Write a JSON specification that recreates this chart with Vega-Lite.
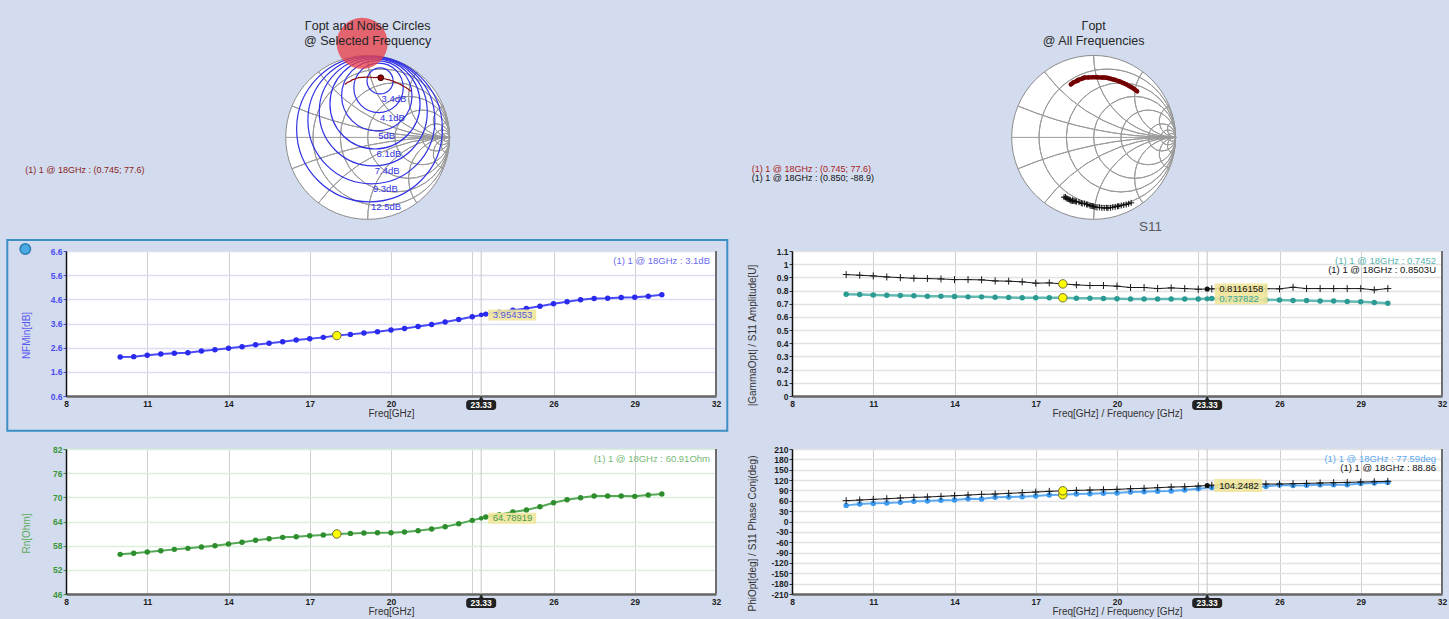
{
"$schema": "https://vega.github.io/schema/vega-lite/v6.json",
"background": "#d3dcee",
"padding": {"left": 6, "top": 10, "right": 2, "bottom": 5},
"columns": 2,
"bounds": "flush",
"spacing": {"row": 53, "column": 76},
"config": {
 "font": "Liberation Sans",
 "view": {"stroke": null},
 "axis": {"labelFont": "Liberation Sans", "labelFontSize": 8.5, "labelFontWeight": "bold", "titleFont": "Liberation Sans", "titleFontSize": 10, "titleFontWeight": "normal", "grid": true, "tickCount": 30},
 "text": {"font": "Liberation Sans"},
 "point": {"opacity": 1}
},
"datasets": {
 "nf": [{"f":10,"v":2.215},{"f":10.5,"v":2.229},{"f":11,"v":2.284},{"f":11.5,"v":2.339},{"f":12,"v":2.366},{"f":12.5,"v":2.394},{"f":13,"v":2.463},{"f":13.5,"v":2.518},{"f":14,"v":2.573},{"f":14.5,"v":2.641},{"f":15,"v":2.724},{"f":15.5,"v":2.779},{"f":16,"v":2.847},{"f":16.5,"v":2.916},{"f":17,"v":2.971},{"f":17.5,"v":3.026},{"f":18,"v":3.1},{"f":18.5,"v":3.15},{"f":19,"v":3.205},{"f":19.5,"v":3.26},{"f":20,"v":3.329},{"f":20.5,"v":3.397},{"f":21,"v":3.48},{"f":21.5,"v":3.562},{"f":22,"v":3.658},{"f":22.5,"v":3.768},{"f":23,"v":3.878},{"f":23.5,"v":3.988},{"f":24,"v":4.07},{"f":24.5,"v":4.153},{"f":25,"v":4.222},{"f":25.5,"v":4.318},{"f":26,"v":4.414},{"f":26.5,"v":4.497},{"f":27,"v":4.579},{"f":27.5,"v":4.634},{"f":28,"v":4.648},{"f":28.5,"v":4.676},{"f":29,"v":4.69},{"f":29.5,"v":4.731},{"f":30,"v":4.786}],
 "rn": [{"f":10,"v":55.84},{"f":10.5,"v":56.09},{"f":11,"v":56.42},{"f":11.5,"v":56.75},{"f":12,"v":57.08},{"f":12.5,"v":57.33},{"f":13,"v":57.66},{"f":13.5,"v":57.99},{"f":14,"v":58.41},{"f":14.5,"v":58.82},{"f":15,"v":59.32},{"f":15.5,"v":59.73},{"f":16,"v":60.06},{"f":16.5,"v":60.23},{"f":17,"v":60.48},{"f":17.5,"v":60.64},{"f":18,"v":60.91},{"f":18.5,"v":61.05},{"f":19,"v":61.13},{"f":19.5,"v":61.22},{"f":20,"v":61.22},{"f":20.5,"v":61.39},{"f":21,"v":61.72},{"f":21.5,"v":62.13},{"f":22,"v":62.71},{"f":22.5,"v":63.45},{"f":23,"v":64.28},{"f":23.5,"v":65.11},{"f":24,"v":65.7},{"f":24.5,"v":66.35},{"f":25,"v":66.85},{"f":25.5,"v":67.68},{"f":26,"v":68.67},{"f":26.5,"v":69.41},{"f":27,"v":69.91},{"f":27.5,"v":70.32},{"f":28,"v":70.32},{"f":28.5,"v":70.32},{"f":29,"v":70.24},{"f":29.5,"v":70.57},{"f":30,"v":70.82}],
 "gopt": [{"f":10,"v":0.7725},{"f":10.5,"v":0.77},{"f":11,"v":0.767},{"f":11.5,"v":0.765},{"f":12,"v":0.762},{"f":12.5,"v":0.76},{"f":13,"v":0.757},{"f":13.5,"v":0.757},{"f":14,"v":0.755},{"f":14.5,"v":0.752},{"f":15,"v":0.752},{"f":15.5,"v":0.75},{"f":16,"v":0.747},{"f":16.5,"v":0.745},{"f":17,"v":0.745},{"f":17.5,"v":0.745},{"f":18,"v":0.7452},{"f":18.5,"v":0.742},{"f":19,"v":0.742},{"f":19.5,"v":0.74},{"f":20,"v":0.737},{"f":20.5,"v":0.735},{"f":21,"v":0.735},{"f":21.5,"v":0.735},{"f":22,"v":0.735},{"f":22.5,"v":0.735},{"f":23,"v":0.735},{"f":23.5,"v":0.739},{"f":24,"v":0.735},{"f":24.5,"v":0.733},{"f":25,"v":0.732},{"f":25.5,"v":0.73},{"f":26,"v":0.728},{"f":26.5,"v":0.725},{"f":27,"v":0.725},{"f":27.5,"v":0.72},{"f":28,"v":0.72},{"f":28.5,"v":0.717},{"f":29,"v":0.715},{"f":29.5,"v":0.71},{"f":30,"v":0.704}],
 "s11a": [{"f":10,"v":0.921},{"f":10.5,"v":0.916},{"f":11,"v":0.911},{"f":11.5,"v":0.903},{"f":12,"v":0.898},{"f":12.5,"v":0.893},{"f":13,"v":0.891},{"f":13.5,"v":0.888},{"f":14,"v":0.883},{"f":14.5,"v":0.883},{"f":15,"v":0.881},{"f":15.5,"v":0.873},{"f":16,"v":0.871},{"f":16.5,"v":0.866},{"f":17,"v":0.856},{"f":17.5,"v":0.858},{"f":18,"v":0.8503},{"f":18.5,"v":0.843},{"f":19,"v":0.838},{"f":19.5,"v":0.838},{"f":20,"v":0.833},{"f":20.5,"v":0.823},{"f":21,"v":0.823},{"f":21.5,"v":0.815},{"f":22,"v":0.82},{"f":22.5,"v":0.815},{"f":23,"v":0.81},{"f":23.5,"v":0.813},{"f":24,"v":0.812},{"f":24.5,"v":0.813},{"f":25,"v":0.812},{"f":25.5,"v":0.814},{"f":26,"v":0.813},{"f":26.5,"v":0.825},{"f":27,"v":0.815},{"f":27.5,"v":0.815},{"f":28,"v":0.815},{"f":28.5,"v":0.815},{"f":29,"v":0.815},{"f":29.5,"v":0.805},{"f":30,"v":0.815}],
 "phi": [{"f":10,"v":46.7},{"f":10.5,"v":50.6},{"f":11,"v":52.5},{"f":11.5,"v":53.5},{"f":12,"v":55.4},{"f":12.5,"v":58.3},{"f":13,"v":59.3},{"f":13.5,"v":61.2},{"f":14,"v":62.2},{"f":14.5,"v":66},{"f":15,"v":65},{"f":15.5,"v":69.9},{"f":16,"v":70.9},{"f":16.5,"v":71.8},{"f":17,"v":73.8},{"f":17.5,"v":76.6},{"f":18,"v":77.59},{"f":18.5,"v":79.5},{"f":19,"v":80.5},{"f":19.5,"v":81.5},{"f":20,"v":82.4},{"f":20.5,"v":85.3},{"f":21,"v":86.3},{"f":21.5,"v":87.3},{"f":22,"v":88.2},{"f":22.5,"v":91.1},{"f":23,"v":95},{"f":23.5,"v":98.8},{"f":24,"v":99.5},{"f":24.5,"v":100.3},{"f":25,"v":101},{"f":25.5,"v":101.7},{"f":26,"v":105.6},{"f":26.5,"v":104.6},{"f":27,"v":105},{"f":27.5,"v":106.6},{"f":28,"v":106.6},{"f":28.5,"v":106.6},{"f":29,"v":110.4},{"f":29.5,"v":111.4},{"f":30,"v":113.3}],
 "s11p": [{"f":10,"v":60.2},{"f":10.5,"v":62.2},{"f":11,"v":64.1},{"f":11.5,"v":66},{"f":12,"v":68},{"f":12.5,"v":69.9},{"f":13,"v":70.9},{"f":13.5,"v":72.8},{"f":14,"v":74.7},{"f":14.5,"v":76.6},{"f":15,"v":78.6},{"f":15.5,"v":79.5},{"f":16,"v":81.5},{"f":16.5,"v":83.4},{"f":17,"v":85.3},{"f":17.5,"v":87.3},{"f":18,"v":88.86},{"f":18.5,"v":90.2},{"f":19,"v":91.1},{"f":19.5,"v":92.1},{"f":20,"v":93.1},{"f":20.5,"v":95},{"f":21,"v":96},{"f":21.5,"v":97.9},{"f":22,"v":99.8},{"f":22.5,"v":100.7},{"f":23,"v":102.7},{"f":23.5,"v":105},{"f":24,"v":106},{"f":24.5,"v":107},{"f":25,"v":108},{"f":25.5,"v":108.5},{"f":26,"v":108.5},{"f":26.5,"v":109.5},{"f":27,"v":110.4},{"f":27.5,"v":111.4},{"f":28,"v":112.4},{"f":28.5,"v":113.3},{"f":29,"v":114.3},{"f":29.5,"v":115.3},{"f":30,"v":116.3}],
 "nfcur": [{"f":23.33,"v":3.954353,"label":"3.954353"}],
 "rncur": [{"f":23.33,"v":64.78919,"label":"64.78919"}],
 "gcurs": [{"f":23.33,"v":0.8116158,"label":"0.8116158"}],
 "gcurg": [{"f":23.33,"v":0.737822,"label":"0.737822"}],
 "pcur": [{"f":23.33,"v":104.2482,"label":"104.2482"}],
 "gsmith": [{"f":10,"re":0.5298,"im":0.5622},{"f":10.5,"re":0.4887,"im":0.595},{"f":11,"re":0.4669,"im":0.6085},{"f":11.5,"re":0.455,"im":0.615},{"f":12,"re":0.4327,"im":0.6272},{"f":12.5,"re":0.3994,"im":0.6466},{"f":13,"re":0.3864,"im":0.6509},{"f":13.5,"re":0.3647,"im":0.6634},{"f":14,"re":0.3521,"im":0.6679},{"f":14.5,"re":0.3058,"im":0.687},{"f":15,"re":0.3178,"im":0.6815},{"f":15.5,"re":0.2578,"im":0.7043},{"f":16,"re":0.2444,"im":0.7058},{"f":16.5,"re":0.2327,"im":0.7078},{"f":17,"re":0.2079,"im":0.7154},{"f":17.5,"re":0.1726,"im":0.7247},{"f":18,"re":0.1601,"im":0.7278},{"f":18.5,"re":0.1352,"im":0.7296},{"f":19,"re":0.1224,"im":0.7319},{"f":19.5,"re":0.1094,"im":0.7319},{"f":20,"re":0.0975,"im":0.7305},{"f":20.5,"re":0.0602,"im":0.7325},{"f":21,"re":0.0474,"im":0.7335},{"f":21.5,"re":0.0346,"im":0.7342},{"f":22,"re":0.0231,"im":0.7346},{"f":22.5,"re":-0.0141,"im":0.7349},{"f":23,"re":-0.0641,"im":0.7322},{"f":23.5,"re":-0.1131,"im":0.7303},{"f":24,"re":-0.1213,"im":0.7249},{"f":24.5,"re":-0.1311,"im":0.7212},{"f":25,"re":-0.1397,"im":0.7185},{"f":25.5,"re":-0.148,"im":0.7148},{"f":26,"re":-0.1958,"im":0.7012},{"f":26.5,"re":-0.1828,"im":0.7016},{"f":27,"re":-0.1876,"im":0.7003},{"f":27.5,"re":-0.2057,"im":0.69},{"f":28,"re":-0.2057,"im":0.69},{"f":28.5,"re":-0.2048,"im":0.6871},{"f":29,"re":-0.2492,"im":0.6702},{"f":29.5,"re":-0.2591,"im":0.6611},{"f":30,"re":-0.2784,"im":0.6466}],
 "ssmith": [{"f":10,"re":0.4577,"im":-0.7992},{"f":10.5,"re":0.4272,"im":-0.8103},{"f":11,"re":0.3979,"im":-0.8195},{"f":11.5,"re":0.3673,"im":-0.8249},{"f":12,"re":0.3364,"im":-0.8326},{"f":12.5,"re":0.3069,"im":-0.8386},{"f":13,"re":0.2915,"im":-0.8419},{"f":13.5,"re":0.2626,"im":-0.8483},{"f":14,"re":0.233,"im":-0.8517},{"f":14.5,"re":0.2046,"im":-0.859},{"f":15,"re":0.1742,"im":-0.8636},{"f":15.5,"re":0.1591,"im":-0.8584},{"f":16,"re":0.1287,"im":-0.8614},{"f":16.5,"re":0.0995,"im":-0.8603},{"f":17,"re":0.0701,"im":-0.8531},{"f":17.5,"re":0.0404,"im":-0.8571},{"f":18,"re":0.0169,"im":-0.8501},{"f":18.5,"re":-0.0029,"im":-0.843},{"f":19,"re":-0.0161,"im":-0.8378},{"f":19.5,"re":-0.0307,"im":-0.8374},{"f":20,"re":-0.0451,"im":-0.8318},{"f":20.5,"re":-0.0718,"im":-0.8199},{"f":21,"re":-0.086,"im":-0.8185},{"f":21.5,"re":-0.112,"im":-0.8073},{"f":22,"re":-0.1396,"im":-0.808},{"f":22.5,"re":-0.1513,"im":-0.8008},{"f":23,"re":-0.178,"im":-0.7902},{"f":23.5,"re":-0.2104,"im":-0.7853},{"f":24,"re":-0.2238,"im":-0.7806},{"f":24.5,"re":-0.2377,"im":-0.7775},{"f":25,"re":-0.2509,"im":-0.7723},{"f":25.5,"re":-0.2583,"im":-0.7719},{"f":26,"re":-0.258,"im":-0.771},{"f":26.5,"re":-0.2754,"im":-0.7776},{"f":27,"re":-0.2841,"im":-0.7639},{"f":27.5,"re":-0.2974,"im":-0.7588},{"f":28,"re":-0.3106,"im":-0.7535},{"f":28.5,"re":-0.3223,"im":-0.7485},{"f":29,"re":-0.3354,"im":-0.7428},{"f":29.5,"re":-0.3441,"im":-0.7278},{"f":30,"re":-0.3611,"im":-0.7306}],
 "disk": [{"cx":0,"cy":0,"r":1,"t0":0,"t1":360}],
 "redcircle": [{"cx":-0.067,"cy":1.149,"r":0.312,"t0":0,"t1":360}],
 "smithgrid": [{"cx":0.16667,"cy":0,"r":0.83333,"t0":0,"t1":360},{"cx":0.33333,"cy":0,"r":0.66667,"t0":0,"t1":360},{"cx":0.5,"cy":0,"r":0.5,"t0":0,"t1":360},{"cx":0.66667,"cy":0,"r":0.33333,"t0":0,"t1":360},{"cx":0.83333,"cy":0,"r":0.16667,"t0":0,"t1":360},{"cx":0.90909,"cy":0,"r":0.09091,"t0":0,"t1":360},{"cx":0.95238,"cy":0,"r":0.04762,"t0":0,"t1":360},
  {"cx":1,"cy":5,"r":5,"t0":180,"t1":202.62},{"cx":1,"cy":2,"r":2,"t0":180,"t1":233.13},{"cx":1,"cy":1,"r":1,"t0":180,"t1":270},{"cx":1,"cy":0.5,"r":0.5,"t0":180,"t1":306.87},{"cx":1,"cy":0.2,"r":0.2,"t0":180,"t1":337.38},{"cx":1,"cy":0.1,"r":0.1,"t0":180,"t1":348.58},
  {"cx":1,"cy":-5,"r":5,"t0":337.38,"t1":360},{"cx":1,"cy":-2,"r":2,"t0":306.87,"t1":360},{"cx":1,"cy":-1,"r":1,"t0":270,"t1":360},{"cx":1,"cy":-0.5,"r":0.5,"t0":233.13,"t1":360},{"cx":1,"cy":-0.2,"r":0.2,"t0":202.62,"t1":360},{"cx":1,"cy":-0.1,"r":0.1,"t0":191.42,"t1":360}],
 "noise": [{"label":"3.4dB","cx":0.1515,"cy":0.689,"r":0.1589,"yb":0.5301,"t0":0,"t1":360},{"label":"4.1dB","cx":0.133,"cy":0.6048,"r":0.3016,"yb":0.3032,"t0":0,"t1":360},{"label":"5dB","cx":0.1118,"cy":0.5085,"r":0.4294,"yb":0.0791,"t0":0,"t1":360},{"label":"6.1dB","cx":0.0898,"cy":0.4083,"r":0.5497,"yb":-0.1414,"t0":0,"t1":360},{"label":"7.4dB","cx":0.0687,"cy":0.3125,"r":0.6593,"yb":-0.3468,"t0":0,"t1":360},{"label":"9.3dB","cx":0.0458,"cy":0.2085,"r":0.7746,"yb":-0.5661,"t0":0,"t1":360},{"label":"12.5dB","cx":0.0227,"cy":0.1031,"r":0.8893,"yb":-0.7862,"t0":0,"t1":360}]
},
"concat": [
 {
  "width": 650, "height": 188,
  "view": {"stroke": null},
  "layer": [
   {"data": {"name":"disk"},
    "mark": {"type":"arc","fill":"#ffffff","stroke":"#8c8c8c","strokeWidth":1},
    "encoding": {
     "x": {"field":"cx","type":"quantitative","scale":{"domain":[-3.68,4.25],"nice":false,"zero":false},"axis":null},
     "y": {"field":"cy","type":"quantitative","scale":{"domain":[-0.74,1.555],"nice":false,"zero":false},"axis":null},
     "theta": {"field":"t0","type":"quantitative","stack":null,"scale":{"domain":[0,360],"range":[0,6.283185307179586]}},
     "theta2": {"field":"t1"},
     "radius": {"field":"r","type":"quantitative","scale":{"type":"linear","domain":[0,1],"range":[0,81.95],"zero":true}}
    }},
   {"data": {"name":"smithgrid"},
    "mark": {"type":"arc","filled":false,"stroke":"#9a9a9a","strokeWidth":1},
    "encoding": {
     "x": {"field":"cx","type":"quantitative","scale":{"domain":[-3.68,4.25],"nice":false,"zero":false},"axis":null},
     "y": {"field":"cy","type":"quantitative","scale":{"domain":[-0.74,1.555],"nice":false,"zero":false},"axis":null},
     "theta": {"field":"t0","type":"quantitative","stack":null,"scale":{"domain":[0,360],"range":[0,6.283185307179586]}},
     "theta2": {"field":"t1"},
     "radius": {"field":"r","type":"quantitative","scale":{"type":"linear","domain":[0,1],"range":[0,81.95],"zero":true}},
     "radius2": {"field":"r"}
    }},
   {"data": {"values": [{"a":-1,"b":1,"c":0}]},
    "mark": {"type":"rule","stroke":"#9a9a9a","strokeWidth":1},
    "encoding": {"x": {"field":"a","type":"quantitative","axis":null},"x2": {"field":"b"},"y": {"field":"c","type":"quantitative","axis":null}}},
   {"data": {"name":"noise"},
    "mark": {"type":"arc","filled":false,"stroke":"#3232e4","strokeWidth":1.2},
    "encoding": {
     "x": {"field":"cx","type":"quantitative","scale":{"domain":[-3.68,4.25],"nice":false,"zero":false},"axis":null},
     "y": {"field":"cy","type":"quantitative","scale":{"domain":[-0.74,1.555],"nice":false,"zero":false},"axis":null},
     "theta": {"field":"t0","type":"quantitative","stack":null,"scale":{"domain":[0,360],"range":[0,6.283185307179586]}},
     "theta2": {"field":"t1"},
     "radius": {"field":"r","type":"quantitative","scale":{"type":"linear","domain":[0,1],"range":[0,81.95],"zero":true}},
     "radius2": {"field":"r"}
    }},
   {"data": {"name":"noise"},
    "mark": {"type":"text","align":"left","baseline":"top","dx":1.5,"dy":0.5,"fontSize":9.5,"color":"#3232e4"},
    "encoding": {
     "x": {"field":"cx","type":"quantitative","axis":null},
     "y": {"field":"yb","type":"quantitative","axis":null},
     "text": {"field":"label"}
    }},
   {"data": {"name":"redcircle"},
    "mark": {"type":"arc","fill":"#e8414c","fillOpacity":0.78},
    "encoding": {
     "x": {"field":"cx","type":"quantitative","axis":null},
     "y": {"field":"cy","type":"quantitative","axis":null},
     "theta": {"field":"t0","type":"quantitative","stack":null,"scale":{"domain":[0,360],"range":[0,6.283185307179586]}},
     "theta2": {"field":"t1"},
     "radius": {"field":"r","type":"quantitative","scale":{"type":"linear","domain":[0,1],"range":[0,81.95],"zero":true}}
    }},
   {"data": {"name":"gsmith"},
    "mark": {"type":"line","color":"#8b0d0d","strokeWidth":1.2},
    "encoding": {"x": {"field":"re","type":"quantitative","axis":null},"y": {"field":"im","type":"quantitative","axis":null},"order": {"field":"f","type":"quantitative"}}},
   {"data": {"name":"gsmith"},
    "transform": [{"filter":"datum.f == 18"}],
    "mark": {"type":"point","filled":true,"size":34,"fill":"#8b0000","stroke":"#4a0000","strokeWidth":1,"opacity":1},
    "encoding": {"x": {"field":"re","type":"quantitative","axis":null},"y": {"field":"im","type":"quantitative","axis":null}}},
   {"data": {"values": [{"x":0,"y":1.36,"t":"Γopt and Noise Circles"},{"x":0,"y":1.181,"t":"@ Selected Frequency"}]},
    "mark": {"type":"text","fontSize":12.5,"align":"center","baseline":"middle","color":"#262626"},
    "encoding": {"x": {"field":"x","type":"quantitative","axis":null},"y": {"field":"y","type":"quantitative","axis":null},"text": {"field":"t"}}},
   {"data": {"values": [{"x":-4.177,"y":-0.396,"t":"(1) 1 @ 18GHz : (0.745; 77.6)"}]},
    "mark": {"type":"text","fontSize":9,"align":"left","baseline":"middle","color":"#8b1c1c"},
    "encoding": {"x": {"field":"x","type":"quantitative","axis":null},"y": {"field":"y","type":"quantitative","axis":null},"text": {"field":"t"}}}
  ]
 },
 {
  "width": 650, "height": 188,
  "view": {"stroke": null},
  "layer": [
   {"data": {"name":"disk"},
    "mark": {"type":"arc","fill":"#ffffff","stroke":"#8c8c8c","strokeWidth":1},
    "encoding": {
     "x": {"field":"cx","type":"quantitative","scale":{"domain":[-3.68,4.25],"nice":false,"zero":false},"axis":null},
     "y": {"field":"cy","type":"quantitative","scale":{"domain":[-0.74,1.555],"nice":false,"zero":false},"axis":null},
     "theta": {"field":"t0","type":"quantitative","stack":null,"scale":{"domain":[0,360],"range":[0,6.283185307179586]}},
     "theta2": {"field":"t1"},
     "radius": {"field":"r","type":"quantitative","scale":{"type":"linear","domain":[0,1],"range":[0,81.95],"zero":true}}
    }},
   {"data": {"name":"smithgrid"},
    "mark": {"type":"arc","filled":false,"stroke":"#9a9a9a","strokeWidth":1},
    "encoding": {
     "x": {"field":"cx","type":"quantitative","scale":{"domain":[-3.68,4.25],"nice":false,"zero":false},"axis":null},
     "y": {"field":"cy","type":"quantitative","scale":{"domain":[-0.74,1.555],"nice":false,"zero":false},"axis":null},
     "theta": {"field":"t0","type":"quantitative","stack":null,"scale":{"domain":[0,360],"range":[0,6.283185307179586]}},
     "theta2": {"field":"t1"},
     "radius": {"field":"r","type":"quantitative","scale":{"type":"linear","domain":[0,1],"range":[0,81.95],"zero":true}},
     "radius2": {"field":"r"}
    }},
   {"data": {"values": [{"a":-1,"b":1,"c":0}]},
    "mark": {"type":"rule","stroke":"#9a9a9a","strokeWidth":1},
    "encoding": {"x": {"field":"a","type":"quantitative","axis":null},"x2": {"field":"b"},"y": {"field":"c","type":"quantitative","axis":null}}},
   {"data": {"name":"gsmith"},
    "mark": {"type":"line","color":"#8b0a0a","strokeWidth":4.5,"strokeCap":"round"},
    "encoding": {"x": {"field":"re","type":"quantitative","axis":null},"y": {"field":"im","type":"quantitative","axis":null},"order": {"field":"f","type":"quantitative"}}},
   {"data": {"name":"gsmith"},
    "mark": {"type":"point","filled":true,"size":16,"color":"#700000","opacity":1},
    "encoding": {"x": {"field":"re","type":"quantitative","axis":null},"y": {"field":"im","type":"quantitative","axis":null}}},
   {"data": {"name":"ssmith"},
    "mark": {"type":"line","color":"#111111","strokeWidth":1},
    "encoding": {"x": {"field":"re","type":"quantitative","axis":null},"y": {"field":"im","type":"quantitative","axis":null},"order": {"field":"f","type":"quantitative"}}},
   {"data": {"name":"ssmith"},
    "mark": {"type":"point","shape":"M-1,0H1M0,-1V1","filled":false,"size":36,"stroke":"#111111","strokeWidth":1,"opacity":1},
    "encoding": {"x": {"field":"re","type":"quantitative","axis":null},"y": {"field":"im","type":"quantitative","axis":null}}},
   {"data": {"values": [{"x":0,"y":1.36,"t":"Γopt"},{"x":0,"y":1.181,"t":"@ All Frequencies"}]},
    "mark": {"type":"text","fontSize":12.5,"align":"center","baseline":"middle","color":"#262626"},
    "encoding": {"x": {"field":"x","type":"quantitative","axis":null},"y": {"field":"y","type":"quantitative","axis":null},"text": {"field":"t"}}},
   {"data": {"values": [{"x":0.695,"y":-1.098,"t":"S11"}]},
    "mark": {"type":"text","fontSize":13.5,"align":"center","baseline":"middle","color":"#5a5a5a"},
    "encoding": {"x": {"field":"x","type":"quantitative","axis":null},"y": {"field":"y","type":"quantitative","axis":null},"text": {"field":"t"}}},
   {"data": {"values": [{"x":-4.17,"y":-0.382,"t":"(1) 1 @ 18GHz : (0.745; 77.6)"}]},
    "mark": {"type":"text","fontSize":9,"align":"left","baseline":"middle","color":"#a52222"},
    "encoding": {"x": {"field":"x","type":"quantitative","axis":null},"y": {"field":"y","type":"quantitative","axis":null},"text": {"field":"t"}}},
   {"data": {"values": [{"x":-4.17,"y":-0.5,"t":"(1) 1 @ 18GHz : (0.850; -88.9)"}]},
    "mark": {"type":"text","fontSize":9,"align":"left","baseline":"middle","color":"#111111"},
    "encoding": {"x": {"field":"x","type":"quantitative","axis":null},"y": {"field":"y","type":"quantitative","axis":null},"text": {"field":"t"}}}
  ]
 },
 {
  "width": 650, "height": 145,
  "view": {"fill": "#ffffff", "stroke": null},
  "layer": [
   {"data": {"name":"nf"},
    "mark": {"type":"line","color":"#4a4af6","strokeWidth":2},
    "encoding": {
     "x": {"field":"f","type":"quantitative","scale":{"domain":[8,32],"nice":false,"zero":false},
      "axis": {"title":"Freq[GHz]","values":[8,11,14,17,20,23,26,29,32],"tickCount":30,"labelExpr":"datum.value == 23 ? '' : '' + datum.value","gridColor":"#d0d0d0","domainColor":"#666666","domainWidth":2.5,"tickSize":0,"labelPadding":3,"labelColor":"#1e1e1e","titleColor":"#333333","titlePadding":1,"labelFlush":false,"labelOverlap":false}},
     "y": {"field":"v","type":"quantitative","scale":{"domain":[0.6,6.6],"nice":false,"zero":false},
      "axis": {"title":"NFMin[dB]","values":[0.6,1.6,2.6,3.6,4.6,5.6,6.6],"tickCount":30,"labelExpr":"'' + datum.value","gridColor":"#dcdcf5","gridWidth":1.5,"domainColor":"#111111","domainWidth":1.5,"tickColor":"#4b4bf0","tickSize":3,"labelPadding":1,"labelColor":"#4b4bf0","titleColor":"#5a5aee","titleX":-40,"titleY":84,"titleBaseline":"middle","labelFlush":false,"labelOverlap":false}}
    }},
   {"data": {"values": [{"x1":5.8326,"x2":32.417,"y1":7.0536,"y2":-0.843}]},
    "mark": {"type":"rect","filled":false,"stroke":"#3b8fc4","strokeWidth":2},
    "encoding": {"x": {"field":"x1","type":"quantitative"},"x2": {"field":"x2"},"y": {"field":"y1","type":"quantitative"},"y2": {"field":"y2"}}},
   {"data": {"values": [{"x":6.497,"y":6.68}]},
    "mark": {"type":"point","filled":true,"size":110,"fill":"#4aa8e2","stroke":"#2b7db6","strokeWidth":1.5,"opacity":1},
    "encoding": {"x": {"field":"x","type":"quantitative"},"y": {"field":"y","type":"quantitative"}}},
   {"data": {"name":"nfcur"},
    "mark": {"type":"rule","color":"#c6c6c6","strokeWidth":1},
    "encoding": {"x": {"field":"f","type":"quantitative"},"y": {"datum":0.6,"type":"quantitative"},"y2": {"datum":6.6}}},
   {"data": {"values": [{"x":32,"y1":0.6,"y2":6.6}]},
    "mark": {"type":"rule","color":"#6e6e6e","strokeWidth":2},
    "encoding": {"x": {"field":"x","type":"quantitative"},"y": {"field":"y1","type":"quantitative"},"y2": {"field":"y2"}}},
   {"data": {"name":"nf"},
    "mark": {"type":"point","filled":true,"size":30,"color":"#2a2aee","opacity":1},
    "encoding": {"x": {"field":"f","type":"quantitative"},"y": {"field":"v","type":"quantitative"}}},
   {"data": {"name":"nf"},
    "transform": [{"filter":"datum.f == 18"}],
    "mark": {"type":"point","filled":true,"size":72,"fill":"#ffff00","stroke":"#6b6b3a","strokeWidth":1,"opacity":1},
    "encoding": {"x": {"field":"f","type":"quantitative"},"y": {"field":"v","type":"quantitative"}}},
   {"data": {"name":"nfcur"},
    "mark": {"type":"point","filled":true,"size":22,"color":"#2a2aee","opacity":1},
    "encoding": {"x": {"field":"f","type":"quantitative"},"y": {"field":"v","type":"quantitative"}}},
   {"data": {"name":"nfcur"},
    "mark": {"type":"rect","width":48,"height":11,"xOffset":31,"color":"#efe69c","opacity":0.9},
    "encoding": {"x": {"field":"f","type":"quantitative"},"y": {"field":"v","type":"quantitative"}}},
   {"data": {"name":"nfcur"},
    "mark": {"type":"text","align":"left","baseline":"middle","dx":11.5,"fontSize":9.5,"color":"#5555e0"},
    "encoding": {"x": {"field":"f","type":"quantitative"},"y": {"field":"v","type":"quantitative"},"text": {"field":"label"}}},
   {"data": {"values": [{"x":32,"y":6.6,"t":"(1) 1 @ 18GHz : 3.1dB"}]},
    "mark": {"type":"text","align":"right","baseline":"middle","dx":-6,"dy":10,"fontSize":9.5,"color":"#6b6bf0"},
    "encoding": {"x": {"field":"x","type":"quantitative"},"y": {"field":"y","type":"quantitative"},"text": {"field":"t"}}},
   {"data": {"name":"nfcur"},
    "mark": {"type":"point","shape":"triangle-up","filled":true,"size":20,"color":"#222222","opacity":1,"yOffset":2},
    "encoding": {"x": {"field":"f","type":"quantitative"},"y": {"datum":0.6,"type":"quantitative"}}},
   {"data": {"name":"nfcur"},
    "mark": {"type":"rect","width":30,"height":10,"yOffset":9,"cornerRadius":3,"color":"#222222"},
    "encoding": {"x": {"field":"f","type":"quantitative"},"y": {"datum":0.6,"type":"quantitative"}}},
   {"data": {"name":"nfcur"},
    "mark": {"type":"text","align":"center","baseline":"middle","dy":9,"fontSize":8.5,"fontWeight":"bold","color":"#ffffff"},
    "encoding": {"x": {"field":"f","type":"quantitative"},"y": {"datum":0.6,"type":"quantitative"},"text": {"field":"f","type":"quantitative","format":".2f"}}}
  ]
 },
 {
  "width": 650, "height": 145,
  "view": {"fill": "#ffffff", "stroke": null},
  "layer": [
   {"data": {"name":"gopt"},
    "mark": {"type":"line","color":"#62bab2","strokeWidth":2.5},
    "encoding": {
     "x": {"field":"f","type":"quantitative","scale":{"domain":[8,32],"nice":false,"zero":false},
      "axis": {"title":"Freq[GHz] / Frequency [GHz]","values":[8,11,14,17,20,23,26,29,32],"tickCount":30,"labelExpr":"datum.value == 23 ? '' : '' + datum.value","gridColor":"#d0d0d0","domainColor":"#666666","domainWidth":2.5,"tickSize":0,"labelPadding":3,"labelColor":"#1e1e1e","titleColor":"#333333","titlePadding":1,"labelFlush":false,"labelOverlap":false}},
     "y": {"field":"v","type":"quantitative","scale":{"domain":[0,1.1],"nice":false,"zero":false},
      "axis": {"title":"|GammaOpt| / S11 Amplitude[U]","values":[0,0.1,0.2,0.3,0.4,0.5,0.6,0.7,0.8,0.9,1,1.1],"tickCount":30,"labelExpr":"'' + datum.value","gridColor":"#e2e2e2","gridWidth":1.5,"domainColor":"#111111","domainWidth":1.5,"tickColor":"#333333","tickSize":3,"labelPadding":1,"labelColor":"#1e1e1e","titleColor":"#333333","titleX":-40,"titleY":84,"titleBaseline":"middle","labelFlush":false,"labelOverlap":false}}
    }},
   {"data": {"name":"pcur"},
    "mark": {"type":"rule","color":"#c6c6c6","strokeWidth":1},
    "encoding": {"x": {"field":"f","type":"quantitative"},"y": {"datum":0,"type":"quantitative"},"y2": {"datum":1.1}}},
   {"data": {"values": [{"x":32,"y1":0,"y2":1.1}]},
    "mark": {"type":"rule","color":"#6e6e6e","strokeWidth":2},
    "encoding": {"x": {"field":"x","type":"quantitative"},"y": {"field":"y1","type":"quantitative"},"y2": {"field":"y2"}}},
   {"data": {"name":"gopt"},
    "mark": {"type":"point","filled":true,"size":30,"color":"#2a9a92","opacity":1},
    "encoding": {"x": {"field":"f","type":"quantitative"},"y": {"field":"v","type":"quantitative"}}},
   {"data": {"name":"s11a"},
    "mark": {"type":"line","color":"#1a1a1a","strokeWidth":1},
    "encoding": {"x": {"field":"f","type":"quantitative"},"y": {"field":"v","type":"quantitative"}}},
   {"data": {"name":"s11a"},
    "mark": {"type":"point","shape":"M-1,0H1M0,-1V1","filled":false,"size":49,"stroke":"#1a1a1a","strokeWidth":1,"opacity":1},
    "encoding": {"x": {"field":"f","type":"quantitative"},"y": {"field":"v","type":"quantitative"}}},
   {"data": {"name":"gopt"},
    "transform": [{"filter":"datum.f == 18"}],
    "mark": {"type":"point","filled":true,"size":72,"fill":"#ffff00","stroke":"#6b6b3a","strokeWidth":1,"opacity":1},
    "encoding": {"x": {"field":"f","type":"quantitative"},"y": {"field":"v","type":"quantitative"}}},
   {"data": {"name":"s11a"},
    "transform": [{"filter":"datum.f == 18"}],
    "mark": {"type":"point","filled":true,"size":72,"fill":"#ffff00","stroke":"#6b6b3a","strokeWidth":1,"opacity":1},
    "encoding": {"x": {"field":"f","type":"quantitative"},"y": {"field":"v","type":"quantitative"}}},
   {"data": {"name":"gcurs"},
    "mark": {"type":"point","filled":true,"size":26,"color":"#111111","opacity":1},
    "encoding": {"x": {"field":"f","type":"quantitative"},"y": {"field":"v","type":"quantitative"}}},
   {"data": {"name":"gcurg"},
    "mark": {"type":"point","filled":true,"size":26,"color":"#2a9a92","opacity":1},
    "encoding": {"x": {"field":"f","type":"quantitative"},"y": {"field":"v","type":"quantitative"}}},
   {"data": {"name":"gcurs"},
    "mark": {"type":"rect","width":53,"height":11,"xOffset":34,"color":"#efe69c","opacity":0.9},
    "encoding": {"x": {"field":"f","type":"quantitative"},"y": {"field":"v","type":"quantitative"}}},
   {"data": {"name":"gcurg"},
    "mark": {"type":"rect","width":53,"height":11,"xOffset":34,"color":"#efe69c","opacity":0.9},
    "encoding": {"x": {"field":"f","type":"quantitative"},"y": {"field":"v","type":"quantitative"}}},
   {"data": {"name":"gcurs"},
    "mark": {"type":"text","align":"left","baseline":"middle","dx":12,"fontSize":9.5,"color":"#111111"},
    "encoding": {"x": {"field":"f","type":"quantitative"},"y": {"field":"v","type":"quantitative"},"text": {"field":"label"}}},
   {"data": {"name":"gcurg"},
    "mark": {"type":"text","align":"left","baseline":"middle","dx":12,"fontSize":9.5,"color":"#3aa59c"},
    "encoding": {"x": {"field":"f","type":"quantitative"},"y": {"field":"v","type":"quantitative"},"text": {"field":"label"}}},
   {"data": {"values": [{"x":32,"y":1.1,"t":"(1) 1 @ 18GHz : 0.7452"}]},
    "mark": {"type":"text","align":"right","baseline":"middle","dx":-6,"dy":9.7,"fontSize":9.5,"color":"#5ab4ae"},
    "encoding": {"x": {"field":"x","type":"quantitative"},"y": {"field":"y","type":"quantitative"},"text": {"field":"t"}}},
   {"data": {"values": [{"x":32,"y":1.1,"t":"(1) 1 @ 18GHz : 0.8503U"}]},
    "mark": {"type":"text","align":"right","baseline":"middle","dx":-6,"dy":19.3,"fontSize":9.5,"color":"#111111"},
    "encoding": {"x": {"field":"x","type":"quantitative"},"y": {"field":"y","type":"quantitative"},"text": {"field":"t"}}},
   {"data": {"name":"pcur"},
    "mark": {"type":"point","shape":"triangle-up","filled":true,"size":20,"color":"#222222","opacity":1,"yOffset":2},
    "encoding": {"x": {"field":"f","type":"quantitative"},"y": {"datum":0,"type":"quantitative"}}},
   {"data": {"name":"pcur"},
    "mark": {"type":"rect","width":30,"height":10,"yOffset":9,"cornerRadius":3,"color":"#222222"},
    "encoding": {"x": {"field":"f","type":"quantitative"},"y": {"datum":0,"type":"quantitative"}}},
   {"data": {"name":"pcur"},
    "mark": {"type":"text","align":"center","baseline":"middle","dy":9,"fontSize":8.5,"fontWeight":"bold","color":"#ffffff"},
    "encoding": {"x": {"field":"f","type":"quantitative"},"y": {"datum":0,"type":"quantitative"},"text": {"field":"f","type":"quantitative","format":".2f"}}}
  ]
 },
 {
  "width": 650, "height": 145,
  "view": {"fill": "#ffffff", "stroke": null},
  "layer": [
   {"data": {"name":"rn"},
    "mark": {"type":"line","color":"#55a855","strokeWidth":2},
    "encoding": {
     "x": {"field":"f","type":"quantitative","scale":{"domain":[8,32],"nice":false,"zero":false},
      "axis": {"title":"Freq[GHz]","values":[8,11,14,17,20,23,26,29,32],"tickCount":30,"labelExpr":"datum.value == 23 ? '' : '' + datum.value","gridColor":"#d0d0d0","domainColor":"#666666","domainWidth":2.5,"tickSize":0,"labelPadding":3,"labelColor":"#1e1e1e","titleColor":"#333333","titlePadding":1,"labelFlush":false,"labelOverlap":false}},
     "y": {"field":"v","type":"quantitative","scale":{"domain":[46,82],"nice":false,"zero":false},
      "axis": {"title":"Rn[Ohm]","values":[46,52,58,64,70,76,82],"tickCount":30,"labelExpr":"'' + datum.value","gridColor":"#dcefdc","gridWidth":1.5,"domainColor":"#111111","domainWidth":1.5,"tickColor":"#3a963a","tickSize":3,"labelPadding":1,"labelColor":"#3a963a","titleColor":"#5bab5b","titleX":-40,"titleY":84,"titleBaseline":"middle","labelFlush":false,"labelOverlap":false}}
    }},
   {"data": {"name":"rncur"},
    "mark": {"type":"rule","color":"#c6c6c6","strokeWidth":1},
    "encoding": {"x": {"field":"f","type":"quantitative"},"y": {"datum":46,"type":"quantitative"},"y2": {"datum":82}}},
   {"data": {"values": [{"x":32,"y1":46,"y2":82}]},
    "mark": {"type":"rule","color":"#6e6e6e","strokeWidth":2},
    "encoding": {"x": {"field":"x","type":"quantitative"},"y": {"field":"y1","type":"quantitative"},"y2": {"field":"y2"}}},
   {"data": {"name":"rn"},
    "mark": {"type":"point","filled":true,"size":30,"color":"#2e8e2e","opacity":1},
    "encoding": {"x": {"field":"f","type":"quantitative"},"y": {"field":"v","type":"quantitative"}}},
   {"data": {"name":"rn"},
    "transform": [{"filter":"datum.f == 18"}],
    "mark": {"type":"point","filled":true,"size":72,"fill":"#ffff00","stroke":"#6b6b3a","strokeWidth":1,"opacity":1},
    "encoding": {"x": {"field":"f","type":"quantitative"},"y": {"field":"v","type":"quantitative"}}},
   {"data": {"name":"rncur"},
    "mark": {"type":"point","filled":true,"size":22,"color":"#2e8e2e","opacity":1},
    "encoding": {"x": {"field":"f","type":"quantitative"},"y": {"field":"v","type":"quantitative"}}},
   {"data": {"name":"rncur"},
    "mark": {"type":"rect","width":48,"height":11,"xOffset":31,"color":"#efe69c","opacity":0.9},
    "encoding": {"x": {"field":"f","type":"quantitative"},"y": {"field":"v","type":"quantitative"}}},
   {"data": {"name":"rncur"},
    "mark": {"type":"text","align":"left","baseline":"middle","dx":11.5,"fontSize":9.5,"color":"#4a9a4a"},
    "encoding": {"x": {"field":"f","type":"quantitative"},"y": {"field":"v","type":"quantitative"},"text": {"field":"label"}}},
   {"data": {"values": [{"x":32,"y":82,"t":"(1) 1 @ 18GHz : 60.91Ohm"}]},
    "mark": {"type":"text","align":"right","baseline":"middle","dx":-6,"dy":9.5,"fontSize":9.5,"color":"#76b876"},
    "encoding": {"x": {"field":"x","type":"quantitative"},"y": {"field":"y","type":"quantitative"},"text": {"field":"t"}}},
   {"data": {"name":"rncur"},
    "mark": {"type":"point","shape":"triangle-up","filled":true,"size":20,"color":"#222222","opacity":1,"yOffset":2},
    "encoding": {"x": {"field":"f","type":"quantitative"},"y": {"datum":46,"type":"quantitative"}}},
   {"data": {"name":"rncur"},
    "mark": {"type":"rect","width":30,"height":10,"yOffset":9,"cornerRadius":3,"color":"#222222"},
    "encoding": {"x": {"field":"f","type":"quantitative"},"y": {"datum":46,"type":"quantitative"}}},
   {"data": {"name":"rncur"},
    "mark": {"type":"text","align":"center","baseline":"middle","dy":9,"fontSize":8.5,"fontWeight":"bold","color":"#ffffff"},
    "encoding": {"x": {"field":"f","type":"quantitative"},"y": {"datum":46,"type":"quantitative"},"text": {"field":"f","type":"quantitative","format":".2f"}}}
  ]
 },
 {
  "width": 650, "height": 145,
  "view": {"fill": "#ffffff", "stroke": null},
  "layer": [
   {"data": {"name":"phi"},
    "mark": {"type":"line","color":"#5eaaf2","strokeWidth":2},
    "encoding": {
     "x": {"field":"f","type":"quantitative","scale":{"domain":[8,32],"nice":false,"zero":false},
      "axis": {"title":"Freq[GHz] / Frequency [GHz]","values":[8,11,14,17,20,23,26,29,32],"tickCount":30,"labelExpr":"datum.value == 23 ? '' : '' + datum.value","gridColor":"#d0d0d0","domainColor":"#666666","domainWidth":2.5,"tickSize":0,"labelPadding":3,"labelColor":"#1e1e1e","titleColor":"#333333","titlePadding":1,"labelFlush":false,"labelOverlap":false}},
     "y": {"field":"v","type":"quantitative","scale":{"domain":[-210,210],"nice":false,"zero":false},
      "axis": {"title":"PhiOpt[deg] / S11 Phase Conj(deg)","values":[-210,-180,-150,-120,-90,-60,-30,0,30,60,90,120,150,180,210],"tickCount":30,"labelExpr":"'' + datum.value","gridColor":"#e2e2e2","gridWidth":1.5,"domainColor":"#111111","domainWidth":1.5,"tickColor":"#333333","tickSize":3,"labelPadding":1,"labelColor":"#1e1e1e","titleColor":"#333333","titleX":-40,"titleY":84,"titleBaseline":"middle","labelFlush":false,"labelOverlap":false}}
    }},
   {"data": {"name":"pcur"},
    "mark": {"type":"rule","color":"#c6c6c6","strokeWidth":1},
    "encoding": {"x": {"field":"f","type":"quantitative"},"y": {"datum":-210,"type":"quantitative"},"y2": {"datum":210}}},
   {"data": {"values": [{"x":32,"y1":-210,"y2":210}]},
    "mark": {"type":"rule","color":"#6e6e6e","strokeWidth":2},
    "encoding": {"x": {"field":"x","type":"quantitative"},"y": {"field":"y1","type":"quantitative"},"y2": {"field":"y2"}}},
   {"data": {"name":"phi"},
    "mark": {"type":"point","filled":true,"size":30,"color":"#3a98ee","opacity":1},
    "encoding": {"x": {"field":"f","type":"quantitative"},"y": {"field":"v","type":"quantitative"}}},
   {"data": {"name":"s11p"},
    "mark": {"type":"line","color":"#1a1a1a","strokeWidth":1},
    "encoding": {"x": {"field":"f","type":"quantitative"},"y": {"field":"v","type":"quantitative"}}},
   {"data": {"name":"s11p"},
    "mark": {"type":"point","shape":"M-1,0H1M0,-1V1","filled":false,"size":49,"stroke":"#1a1a1a","strokeWidth":1,"opacity":1},
    "encoding": {"x": {"field":"f","type":"quantitative"},"y": {"field":"v","type":"quantitative"}}},
   {"data": {"name":"phi"},
    "transform": [{"filter":"datum.f == 18"}],
    "mark": {"type":"point","filled":true,"size":72,"fill":"#ffff00","stroke":"#6b6b3a","strokeWidth":1,"opacity":1},
    "encoding": {"x": {"field":"f","type":"quantitative"},"y": {"field":"v","type":"quantitative"}}},
   {"data": {"name":"s11p"},
    "transform": [{"filter":"datum.f == 18"}],
    "mark": {"type":"point","filled":true,"size":72,"fill":"#ffff00","stroke":"#6b6b3a","strokeWidth":1,"opacity":1},
    "encoding": {"x": {"field":"f","type":"quantitative"},"y": {"field":"v","type":"quantitative"}}},
   {"data": {"name":"pcur"},
    "mark": {"type":"point","filled":true,"size":26,"color":"#111111","opacity":1},
    "encoding": {"x": {"field":"f","type":"quantitative"},"y": {"field":"v","type":"quantitative"}}},
   {"data": {"name":"pcur"},
    "mark": {"type":"rect","width":48,"height":13,"xOffset":31,"color":"#efe69c","opacity":0.9},
    "encoding": {"x": {"field":"f","type":"quantitative"},"y": {"field":"v","type":"quantitative"}}},
   {"data": {"name":"pcur"},
    "mark": {"type":"text","align":"left","baseline":"middle","dx":12,"fontSize":9.5,"color":"#111111"},
    "encoding": {"x": {"field":"f","type":"quantitative"},"y": {"field":"v","type":"quantitative"},"text": {"field":"label"}}},
   {"data": {"values": [{"x":32,"y":210,"t":"(1) 1 @ 18GHz : 77.59deg"}]},
    "mark": {"type":"text","align":"right","baseline":"middle","dx":-6,"dy":10,"fontSize":9.5,"color":"#5aa8f0"},
    "encoding": {"x": {"field":"x","type":"quantitative"},"y": {"field":"y","type":"quantitative"},"text": {"field":"t"}}},
   {"data": {"values": [{"x":32,"y":210,"t":"(1) 1 @ 18GHz : 88.86"}]},
    "mark": {"type":"text","align":"right","baseline":"middle","dx":-6,"dy":19,"fontSize":9.5,"color":"#111111"},
    "encoding": {"x": {"field":"x","type":"quantitative"},"y": {"field":"y","type":"quantitative"},"text": {"field":"t"}}},
   {"data": {"name":"pcur"},
    "mark": {"type":"point","shape":"triangle-up","filled":true,"size":20,"color":"#222222","opacity":1,"yOffset":2},
    "encoding": {"x": {"field":"f","type":"quantitative"},"y": {"datum":-210,"type":"quantitative"}}},
   {"data": {"name":"pcur"},
    "mark": {"type":"rect","width":30,"height":10,"yOffset":9,"cornerRadius":3,"color":"#222222"},
    "encoding": {"x": {"field":"f","type":"quantitative"},"y": {"datum":-210,"type":"quantitative"}}},
   {"data": {"name":"pcur"},
    "mark": {"type":"text","align":"center","baseline":"middle","dy":9,"fontSize":8.5,"fontWeight":"bold","color":"#ffffff"},
    "encoding": {"x": {"field":"f","type":"quantitative"},"y": {"datum":-210,"type":"quantitative"},"text": {"field":"f","type":"quantitative","format":".2f"}}}
  ]
 }
]
}
